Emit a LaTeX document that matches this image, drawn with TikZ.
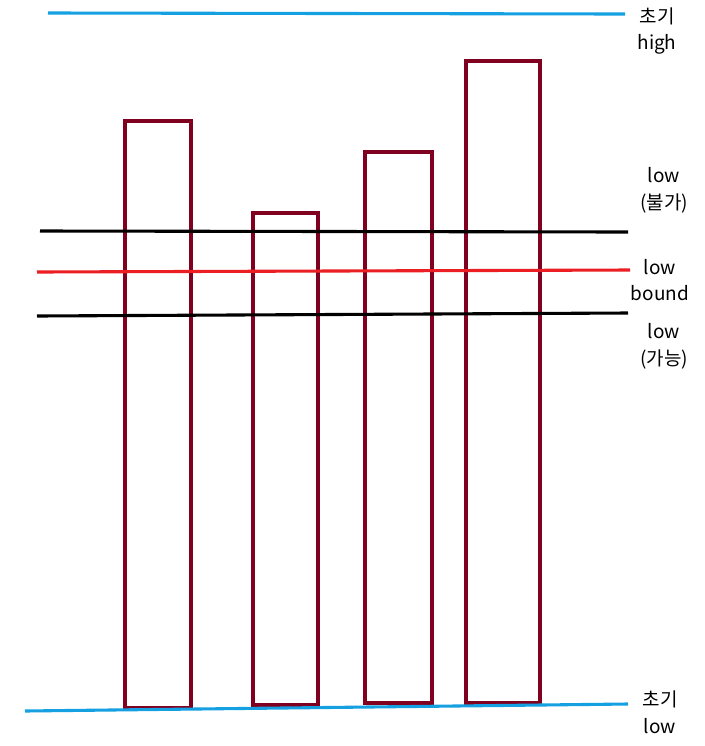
\documentclass[tikz,border=0pt]{standalone}
\usepackage{fontspec}
\newfontfamily\krfont{Noto Sans CJK KR}
\definecolor{skyblue}{RGB}{20,160,225}
\definecolor{barred}{RGB}{128,0,32}
\definecolor{boundred}{RGB}{235,30,35}
\tikzset{
  bar/.style={draw=barred, line width=2.4pt},
  hline/.style={line width=2.2pt},
  lbl/.style={font=\krfont\fontsize{13.5}{19}\selectfont, align=center, inner sep=0pt}
}
\begin{document}
\begin{tikzpicture}[x=0.025cm, y=-0.025cm]
\useasboundingbox[fill=white] (0,0) rectangle (705,746);

\coordinate (hiL) at (48,13);
\coordinate (hiR) at (625,14);
\coordinate (noL) at (40,231);
\coordinate (noR) at (628,232);
\coordinate (bdL) at (37,272);
\coordinate (bdR) at (630,270);
\coordinate (okL) at (37,316);
\coordinate (okR) at (628,313);
\coordinate (loL) at (25,711);
\coordinate (loR) at (628,704);

\draw[bar] (125,121) rectangle (191,708);
\draw[bar] (253,213) rectangle (318,705);
\draw[bar] (365,152) rectangle (432,703);
\draw[bar] (466,61) rectangle (540,703);

\draw[hline, skyblue]  (hiL) -- (hiR);
\draw[hline, black]  (noL) -- (noR);
\draw[hline, boundred]  (bdL) -- (bdR);
\draw[hline, black]  (okL) -- (okR);
\draw[hline, skyblue]  (loL) -- (loR);

\node[lbl] (hi) at (657,31) {초기\\high};
\node[lbl] (no) at (664,190) {low\\(불가)};
\node[lbl] (bd) at (660,280) {low\\bound};
\node[lbl] (ok) at (664,346) {low\\(가능)};
\node[lbl] (lo) at (660,712) {초기\\low};

\end{tikzpicture}
\end{document}
